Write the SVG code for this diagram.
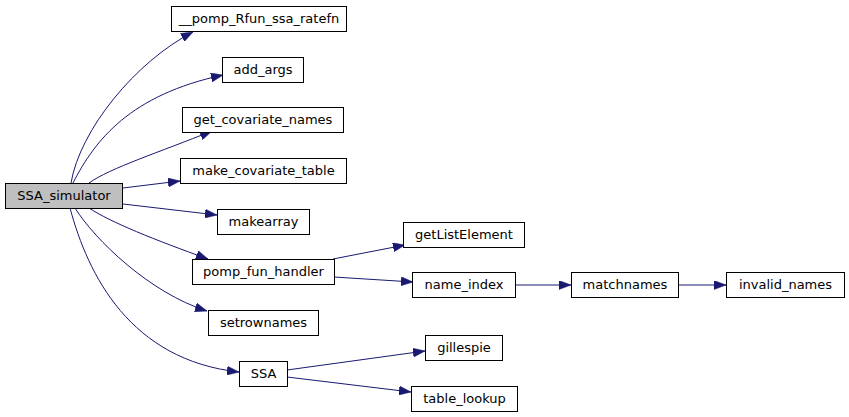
<svg xmlns="http://www.w3.org/2000/svg" width="849" height="417" viewBox="0 0 849 417">
<style>
.n rect{fill:#ffffff;stroke:#000000;stroke-width:1}
.n text{font-family:"DejaVu Sans",sans-serif;font-size:13px;fill:#000000;text-anchor:middle}
#root rect{fill:#bfbfbf}
.e path{fill:none;stroke:#191970;stroke-width:1;marker-end:url(#ah)}
</style>
<defs>
<marker id="ah" viewBox="0 0 12 9" refX="12" refY="4.5" markerWidth="12" markerHeight="9" markerUnits="userSpaceOnUse" orient="auto">
<path d="M0,0 L12,4.5 L0,9 z" fill="#191970" stroke="#191970" stroke-width="0.5"/>
</marker>
</defs>
<rect width="849" height="417" fill="#ffffff"/>
<g class="e" id="edges">
<path d="M71,183 C80,130 135,62 193,32"/>
<path d="M73,183 C95,140 130,95 223,75"/>
<path d="M89,183 C110,168 160,152 212,131"/>
<path d="M123,188 L180,181"/>
<path d="M123,204 L217,215"/>
<path d="M89,208 C110,222 155,240 208,259"/>
<path d="M75,208 C95,240 150,293 207,311"/>
<path d="M70,208 C88,275 130,360 239,372"/>
<path d="M333,259 L405,245"/>
<path d="M334,277 L413,282"/>
<path d="M515,285 L571,285"/>
<path d="M679,285 L726,285"/>
<path d="M287,370 L425,351"/>
<path d="M287,377 L411,392"/>
</g>
<g class="n" id="root"><rect x="5.5" y="183.5" width="117" height="25"/><text x="64" y="199.5">SSA_simulator</text></g>
<g class="n" id="n_pomp_rfun"><rect x="171.5" y="6.5" width="175" height="25"/><text x="259" y="22.5">__pomp_Rfun_ssa_ratefn</text></g>
<g class="n" id="n_add_args"><rect x="222.5" y="57.5" width="81" height="25"/><text x="263" y="73.5">add_args</text></g>
<g class="n" id="n_get_cov"><rect x="182.5" y="107.5" width="161" height="25"/><text x="263" y="123.5">get_covariate_names</text></g>
<g class="n" id="n_make_cov"><rect x="180.5" y="158.5" width="166" height="25"/><text x="263.5" y="174.5">make_covariate_table</text></g>
<g class="n" id="n_makearray"><rect x="217.5" y="209.5" width="92" height="25"/><text x="263.5" y="225.5">makearray</text></g>
<g class="n" id="n_pomp_fun"><rect x="192.5" y="259.5" width="142" height="25"/><text x="263.5" y="275.5">pomp_fun_handler</text></g>
<g class="n" id="n_setrownames"><rect x="208.5" y="310.5" width="110" height="25"/><text x="263.5" y="326.5">setrownames</text></g>
<g class="n" id="n_ssa"><rect x="239.5" y="361.5" width="48" height="25"/><text x="263.5" y="377.5">SSA</text></g>
<g class="n" id="n_getlist"><rect x="403.5" y="222.5" width="121" height="25"/><text x="464" y="238.5">getListElement</text></g>
<g class="n" id="n_name_index"><rect x="412.5" y="272.5" width="103" height="25"/><text x="464" y="288.5">name_index</text></g>
<g class="n" id="n_matchnames"><rect x="571.5" y="272.5" width="107" height="25"/><text x="625" y="288.5">matchnames</text></g>
<g class="n" id="n_invalid"><rect x="726.5" y="272.5" width="118" height="25"/><text x="785.5" y="288.5">invalid_names</text></g>
<g class="n" id="n_gillespie"><rect x="425.5" y="335.5" width="77" height="25"/><text x="464" y="351.5">gillespie</text></g>
<g class="n" id="n_table"><rect x="411.5" y="386.5" width="106" height="25"/><text x="464.5" y="402.5">table_lookup</text></g>
</svg>
